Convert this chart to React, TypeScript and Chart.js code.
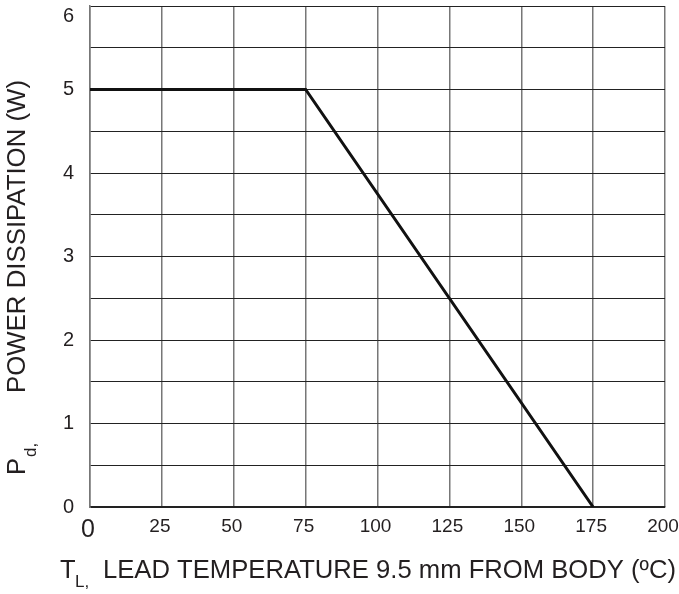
import React, { useEffect, useRef } from 'react';
import { Chart, registerables } from 'chart.js';

Chart.register(...registerables);

// ---- data ----
const temperatures = [0, 75, 175];
const powerDissipation = [5, 5, 0];
const xTickValues = [0, 25, 50, 75, 100, 125, 150, 175, 200];
const yTickLabels = [0, 1, 2, 3, 4, 5, 6];

const xTitleMain = 'T';
const xTitleSub = 'L,';
const xTitleRest = 'LEAD TEMPERATURE 9.5 mm FROM BODY (ºC)';
const yTitleMain = 'P';
const yTitleSub = 'd,';
const yTitleRest = 'POWER DISSIPATION (W)';

const FAMILY = '"Liberation Sans", Arial, Helvetica, sans-serif';
const TEXT = '#231f20';

const titlePlugin = {
  id: 'axisTitles',
  afterDraw(chart: any) {
    const ctx = chart.ctx as CanvasRenderingContext2D;
    ctx.save();
    ctx.fillStyle = TEXT;
    ctx.textBaseline = 'alphabetic';
    ctx.textAlign = 'left';

    // X title
    ctx.font = `25.5px ${FAMILY}`;
    ctx.fillText(xTitleMain, 60, 578);
    ctx.font = `17px ${FAMILY}`;
    ctx.fillText(xTitleSub, 75, 587);
    ctx.font = `25.5px ${FAMILY}`;
    const wx = ctx.measureText(xTitleRest).width;
    ctx.save();
    ctx.translate(103, 578);
    ctx.scale(573 / wx, 1);
    ctx.fillText(xTitleRest, 0, 0);
    ctx.restore();

    // Y title (rotated)
    ctx.save();
    ctx.translate(25, 475);
    ctx.rotate(-Math.PI / 2);
    ctx.font = `25.5px ${FAMILY}`;
    ctx.fillText(yTitleMain, 0, 0);
    ctx.restore();

    ctx.save();
    ctx.translate(36, 457);
    ctx.rotate(-Math.PI / 2);
    ctx.font = `17px ${FAMILY}`;
    ctx.fillText(yTitleSub, 0, 0);
    ctx.restore();

    ctx.save();
    ctx.translate(25, 393);
    ctx.rotate(-Math.PI / 2);
    ctx.font = `25.5px ${FAMILY}`;
    const wy = ctx.measureText(yTitleRest).width;
    ctx.scale(313 / wy, 1);
    ctx.fillText(yTitleRest, 0, 0);
    ctx.restore();

    ctx.restore();
  },
};

export default function App() {
  const ref = useRef<HTMLCanvasElement | null>(null);

  useEffect(() => {
    if (!ref.current) return;
    const chart = new Chart(ref.current, {
      type: 'line',
      data: {
        datasets: [
          {
            data: temperatures.map((x, i) => ({ x, y: powerDissipation[i] })),
            borderColor: '#111',
            borderWidth: 3,
            pointRadius: 0,
            tension: 0,
            fill: false,
          },
        ],
      },
      options: {
        animation: false,
        responsive: false,
        layout: { padding: 0 },
        plugins: { legend: { display: false }, tooltip: { enabled: false } },
        scales: {
          x: {
            type: 'linear',
            min: 0,
            max: 200,
            afterBuildTicks: (s: any) => {
              s.ticks = xTickValues.map((v) => ({ value: v }));
            },
            grid: { color: '#777', lineWidth: 1.5, drawTicks: false },
            border: { color: '#222', width: 1.5 },
            ticks: {
              padding: 8,
              labelOffset: -2,
              color: TEXT,
              autoSkip: false,
              maxRotation: 0,
              font: (c: any) => ({
                family: FAMILY,
                size: c.tick && c.tick.value === 0 ? 25 : 19,
              }),
            },
            afterFit: (s: any) => {
              s.height = 87;
              s.paddingRight = 14;
            },
          },
          y: {
            type: 'linear',
            min: 0,
            max: 6,
            grid: { color: '#222', lineWidth: 1, drawTicks: false },
            border: { color: '#777', width: 1.5 },
            ticks: {
              stepSize: 0.5,
              autoSkip: false,
              padding: 16,
              color: TEXT,
              font: { family: FAMILY, size: 20, lineHeight: 1 },
              callback: (v: any) => {
                const n = Number(v);
                if (!yTickLabels.includes(n)) return '';
                return n === 6 ? ['', String(n)] : String(n);
              },
            },
            afterFit: (s: any) => {
              s.width = 90;
              s.paddingTop = 6;
              s.paddingBottom = 0;
            },
          },
        },
      },
      plugins: [titlePlugin],
    });
    return () => chart.destroy();
  }, []);

  return (
    <div style={{ position: 'fixed', left: 0, top: 0, width: 679, height: 594, background: '#fff' }}>
      <canvas ref={ref} width={679} height={594} style={{ display: 'block' }} />
    </div>
  );
}
